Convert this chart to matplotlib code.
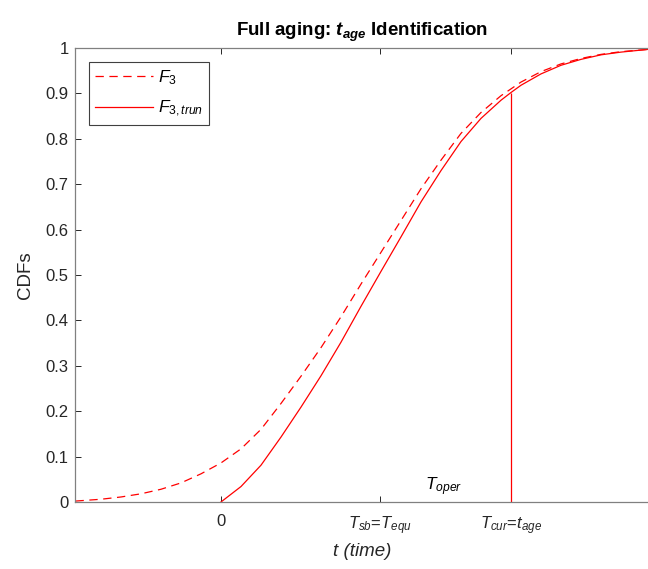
import numpy as np
import matplotlib
matplotlib.use('Agg')
import matplotlib.pyplot as plt

plt.rcParams['font.family'] = 'Liberation Sans'
plt.rcParams['mathtext.fontset'] = 'custom'
plt.rcParams['mathtext.rm'] = 'Liberation Sans'
plt.rcParams['mathtext.it'] = 'Liberation Sans:italic'
plt.rcParams['mathtext.bf'] = 'Liberation Sans:bold'
plt.rcParams['mathtext.bfit'] = 'Liberation Sans:italic:bold'
plt.rcParams['lines.scale_dashes'] = False

# key time points (arbitrary units, 0 = start of operation)
t_sb = 1.59
t_cur = 2.90
x_min, x_max = -1.455, 4.27

# F3 (dashed)
t_f3 = [-1.455, -1.2, -1.0, -0.8, -0.6, -0.4, -0.2, 0.0, 0.2, 0.4, 0.6, 0.8, 1.0,
        1.2, 1.4, 1.6, 1.8, 2.0, 2.2, 2.4, 2.6, 2.8, 3.0, 3.2, 3.4, 3.6, 3.8, 4.0, 4.27]
f3 = [0.002, 0.006, 0.011, 0.018, 0.028, 0.042, 0.062, 0.086, 0.117, 0.160, 0.217, 0.277, 0.340,
      0.408, 0.480, 0.550, 0.620, 0.690, 0.753, 0.812, 0.858, 0.895, 0.925, 0.948, 0.965, 0.977,
      0.986, 0.992, 0.997]

# F3,trun (solid), starts at t = 0
t_trun = [0.0, 0.2, 0.4, 0.6, 0.8, 1.0, 1.2, 1.4, 1.6, 1.8, 2.0, 2.2, 2.4, 2.6, 2.8,
          2.9, 3.0, 3.2, 3.4, 3.6, 3.8, 4.0, 4.27]
f3_trun = [0.0, 0.034, 0.081, 0.143, 0.209, 0.278, 0.352, 0.431, 0.508, 0.584, 0.661, 0.730,
           0.794, 0.845, 0.885, 0.902, 0.918, 0.943, 0.962, 0.975, 0.985, 0.991, 0.997]

xtick_pos = [0, t_sb, t_cur]
xtick_labels = ['0', r'$T_{sb}$=$T_{equ}$', r'$T_{cur}$=$t_{age}$']

fig = plt.figure(figsize=(6.48, 5.69), dpi=100)
ax = fig.add_axes([0.1165, 0.1178, 0.8835, 0.7978])

red = '#ff0000'
ax.plot(t_f3, f3, color=red, lw=0.9, linestyle=(0, (6, 4)), label='$F_3$')
ax.plot(t_trun, f3_trun, color=red, lw=0.9, label='$F_{3,trun}$')
ax.vlines(t_cur, 0, f3_trun[t_trun.index(t_cur)], color=red, lw=0.9)

ax.text(2.04, 0.025, '$T_{oper}$', fontsize=12.5, va='baseline', ha='left')

ax.set_xlim(x_min, x_max)
ax.set_ylim(0, 1)
ax.set_xticks(xtick_pos)
ax.set_xticklabels(xtick_labels)
ax.set_yticks(np.arange(0, 1.01, 0.1))
ax.set_yticklabels(['0'] + ['%.1f' % v for v in np.arange(0.1, 0.95, 0.1)] + ['1'])

ax.tick_params(direction='in', top=True, right=False, length=4, width=0.7,
               colors='#262626', labelsize=12)
ax.tick_params(axis='x', pad=9)
ax.tick_params(axis='y', pad=5)
for s in ['left', 'bottom', 'top']:
    ax.spines[s].set_color('#808080')
    ax.spines[s].set_linewidth(0.9)
ax.spines['right'].set_visible(False)

ax.set_xlabel('t (time)', fontsize=13.5, style='italic', color='#262626', labelpad=4)
ax.set_ylabel('CDFs', fontsize=13.5, color='#262626', labelpad=8)
ax.set_title(r'Full aging: $\mathbfit{t}_{\mathbfit{age}}$ Identification',
             fontsize=13.5, fontweight='bold', pad=9)

leg = ax.legend(loc='upper left', bbox_to_anchor=(0.024, 0.969), borderaxespad=0,
                fontsize=12.5, fancybox=False, handlelength=3.3, handletextpad=0.3,
                borderpad=0.35, labelspacing=0.7, framealpha=1)
leg.get_frame().set_edgecolor('#404040')
leg.get_frame().set_linewidth(0.8)

fig.savefig('out.png', dpi=100)
